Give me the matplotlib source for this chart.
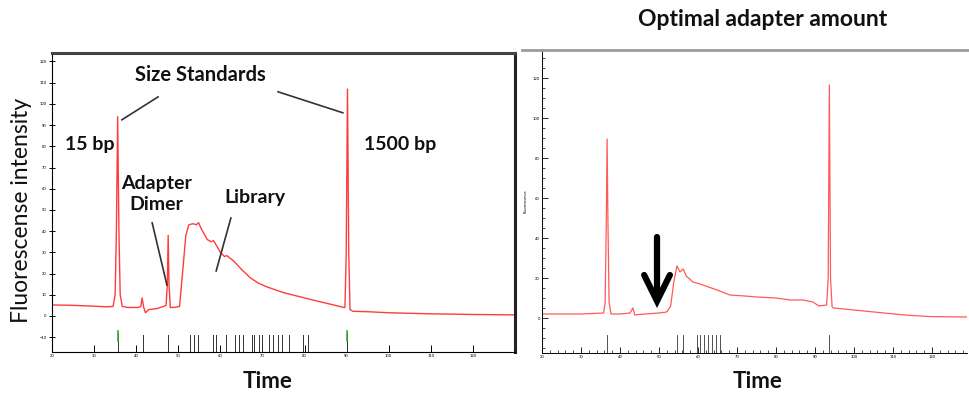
import matplotlib
matplotlib.use("Agg")
import matplotlib.pyplot as plt
from matplotlib.ticker import MultipleLocator
from matplotlib.lines import Line2D

# ---------------- data ----------------
left_time = [20, 25, 30, 33, 34.5, 35.0, 35.3, 35.6, 35.9, 36.2, 36.7, 38, 40.5, 41.1, 41.4,
             41.8, 42.2, 43, 45, 46.5, 47.1, 47.4, 47.6, 47.8, 48.1, 49, 50.3, 51, 51.8, 52.5,
             53.5, 54.3, 54.8, 55.5, 56.9, 57.8, 58.4, 60, 61, 61.5, 63.1, 65, 67.1, 69, 71.2,
             75, 79, 83, 86.9, 89.3, 89.6, 89.9, 90.2, 90.5, 90.8, 91.5, 95, 100, 110, 120, 130]
left_fluor = [5.2, 5, 4.6, 4.3, 4.5, 10, 40, 94, 40, 10, 4.5, 4, 4, 4.5, 8.5,
              4, 1.5, 3, 3.5, 4.5, 5, 15, 38, 15, 4, 4, 4.5, 20, 38, 43,
              43.5, 43, 44, 41, 36, 35, 35.5, 30, 28, 28.5, 26, 22, 18, 15.5, 13.6,
              11, 9, 7, 5.2, 4, 4, 30, 107, 30, 3, 2.2, 2, 1.5, 1, 0.7, 0.5]

right_time = [20, 30, 35.8, 36.2, 36.5, 36.7, 36.9, 37.2, 37.7, 40, 42.6, 43.3, 43.8, 45, 50,
              52, 53, 53.8, 54.6, 55.4, 56.2, 57, 58.7, 60.5, 62, 64.9, 68.2, 72, 75, 80,
              83.6, 87, 89.5, 91, 93.0, 93.4, 93.7, 94.0, 94.4, 94.8, 100, 106.7, 113, 119.5, 129]
right_fluor = [2, 2, 2.5, 8, 50, 89.5, 50, 8, 2, 2, 2.5, 5, 1.5, 1.8, 2.5,
               3, 6, 18, 26, 23, 24.5, 21, 18, 17, 16, 14, 11.5, 11, 10.5, 10,
               9, 9, 8, 6, 6.5, 20, 116.5, 20, 5.5, 5, 4, 2.7, 1.5, 0.7, 0.5]

left_markers = [41.7, 47.6, 52.7, 53.7, 54.8, 58.3, 59, 61.4, 63.5, 64.5, 65.4, 67.4, 68.1,
                69.1, 70, 71.6, 72.6, 73.7, 74.6, 76.3, 79.6, 80.8]
left_std_markers = [35.7, 90.2]
right_markers = [36.7, 54.6, 56.2, 59.7, 60.5, 61.5, 62.5, 63.5, 64.5, 65.6, 93.7]

left_xticks = [20, 30, 40, 50, 60, 70, 80, 90, 100, 110, 120]
left_yticks = [-10, 0, 10, 20, 30, 40, 50, 60, 70, 80, 90, 100, 110, 120]
right_xticks = [20, 30, 40, 50, 60, 70, 80, 90, 100, 110, 120]
right_yticks = [0, 20, 40, 60, 80, 100, 120]

arrow_x = 49.5
arrow_top = 40.5
arrow_tip = 8.5

# ---------------- figure ----------------
W, H = 969, 394
fig = plt.figure(figsize=(W / 100, H / 100), dpi=100)
FONT = ["Lato", "DejaVu Sans"]
plt.rcParams['font.family'] = FONT

def rect(x0, y0, x1, y1):
    return [x0 / W, 1 - y1 / H, (x1 - x0) / W, (y1 - y0) / H]

trace_color = "#ff3c3c"

# Left panel
axL = fig.add_axes(rect(52, 53, 515, 352))
axL.plot(left_time, left_fluor, color=trace_color, lw=1.0)
axL.set_xlim(20, 130)
axL.set_ylim(-17, 124)
axL.set_xticks(left_xticks)
axL.set_yticks(left_yticks)
axL.tick_params(axis='both', labelsize=3, length=4, width=0.7, pad=1.5)
axL.tick_params(axis='x', direction='in', length=5)
axL.tick_params(axis='y', direction='inout', length=5)
axL.spines['top'].set_color('#444444')
axL.spines['top'].set_linewidth(2.2)
axL.spines['right'].set_color('#222222')
axL.spines['right'].set_linewidth(2.2)
axL.spines['left'].set_linewidth(0.8)
axL.spines['bottom'].set_linewidth(0.8)
for m in left_markers:
    axL.plot([m, m], [-17, -9], color='#333333', lw=0.7)
for m in left_std_markers:
    axL.plot([m, m], [-17, -8], color='#333333', lw=0.7)
    axL.plot([m, m], [-12, -7], color='#33aa33', lw=1.2)

bold = dict(fontweight='bold', family=FONT, color='#111111')
axL.text(55.2, 113.5, "Size Standards", ha='center', va='center', fontsize=14.5, **bold)
axL.plot([45.2, 36.6], [103.3, 92.5], color='#333333', lw=1.2)
axL.plot([73.7, 89.1], [105.7, 95.8], color='#333333', lw=1.2)
axL.text(29.0, 80.7, "15 bp", ha='center', va='center', fontsize=14, **bold)
axL.text(102.7, 80.7, "1500 bp", ha='center', va='center', fontsize=14, **bold)
axL.text(44.9, 57.5, "Adapter\nDimer", ha='center', va='center', fontsize=14,
         linespacing=1.25, **bold)
axL.plot([43.8, 47.3], [43.9, 14.6], color='#333333', lw=1.2)
axL.text(68.2, 55.7, "Library", ha='center', va='center', fontsize=14, **bold)
axL.plot([62.5, 59.0], [46.2, 21.2], color='#333333', lw=1.2)

# Right panel
axR = fig.add_axes(rect(542, 50, 967, 353))
axR.plot(right_time, right_fluor, color="#ff5a5a", lw=0.9)
axR.set_xlim(20, 129)
axR.set_ylim(-17.5, 134)
axR.set_xticks(right_xticks)
axR.set_yticks(right_yticks)
axR.xaxis.set_minor_locator(MultipleLocator(2))
axR.yaxis.set_minor_locator(MultipleLocator(5))
axR.tick_params(axis='both', which='major', labelsize=3, direction='in', length=4,
                width=0.6, pad=1.5)
axR.tick_params(axis='both', which='minor', direction='in', length=2, width=0.5)
axR.spines['right'].set_visible(False)
axR.spines['top'].set_visible(False)
axR.spines['left'].set_linewidth(0.7)
axR.spines['bottom'].set_linewidth(0.7)
axR.set_ylabel("Fluorescence", fontsize=3, labelpad=4)
for m in right_markers:
    axR.plot([m, m], [-17.5, -8.5], color='#333333', lw=0.6)

# top frame line of the right panel (extends across the panel image)
fig.add_artist(Line2D([522 / W, 1.0], [1 - 50 / H, 1 - 50 / H], color='#9a9a9a', lw=2.0))

# arrow (thick chevron)
axR.plot([arrow_x, arrow_x], [arrow_top, arrow_tip + 1], color='black', lw=4.5,
         solid_capstyle='round')
axR.plot([arrow_x - 3.3, arrow_x, arrow_x + 3.3], [arrow_tip + 13, arrow_tip, arrow_tip + 13],
         color='black', lw=4.5, solid_capstyle='round', solid_joinstyle='miter')

# figure-level labels
fig.text(22 / W, 1 - 210 / H, "Fluorescense intensity", rotation=90, ha='center',
         va='center', fontsize=16.5, color='#111111')
fig.text(268 / W, 1 - 382 / H, "Time", ha='center', va='center', fontsize=16, **bold)
fig.text(758 / W, 1 - 382 / H, "Time", ha='center', va='center', fontsize=16, **bold)
fig.text(763 / W, 1 - 19 / H, "Optimal adapter amount", ha='center', va='center',
         fontsize=16.5, **bold)

fig.savefig("out.png", dpi=100)
